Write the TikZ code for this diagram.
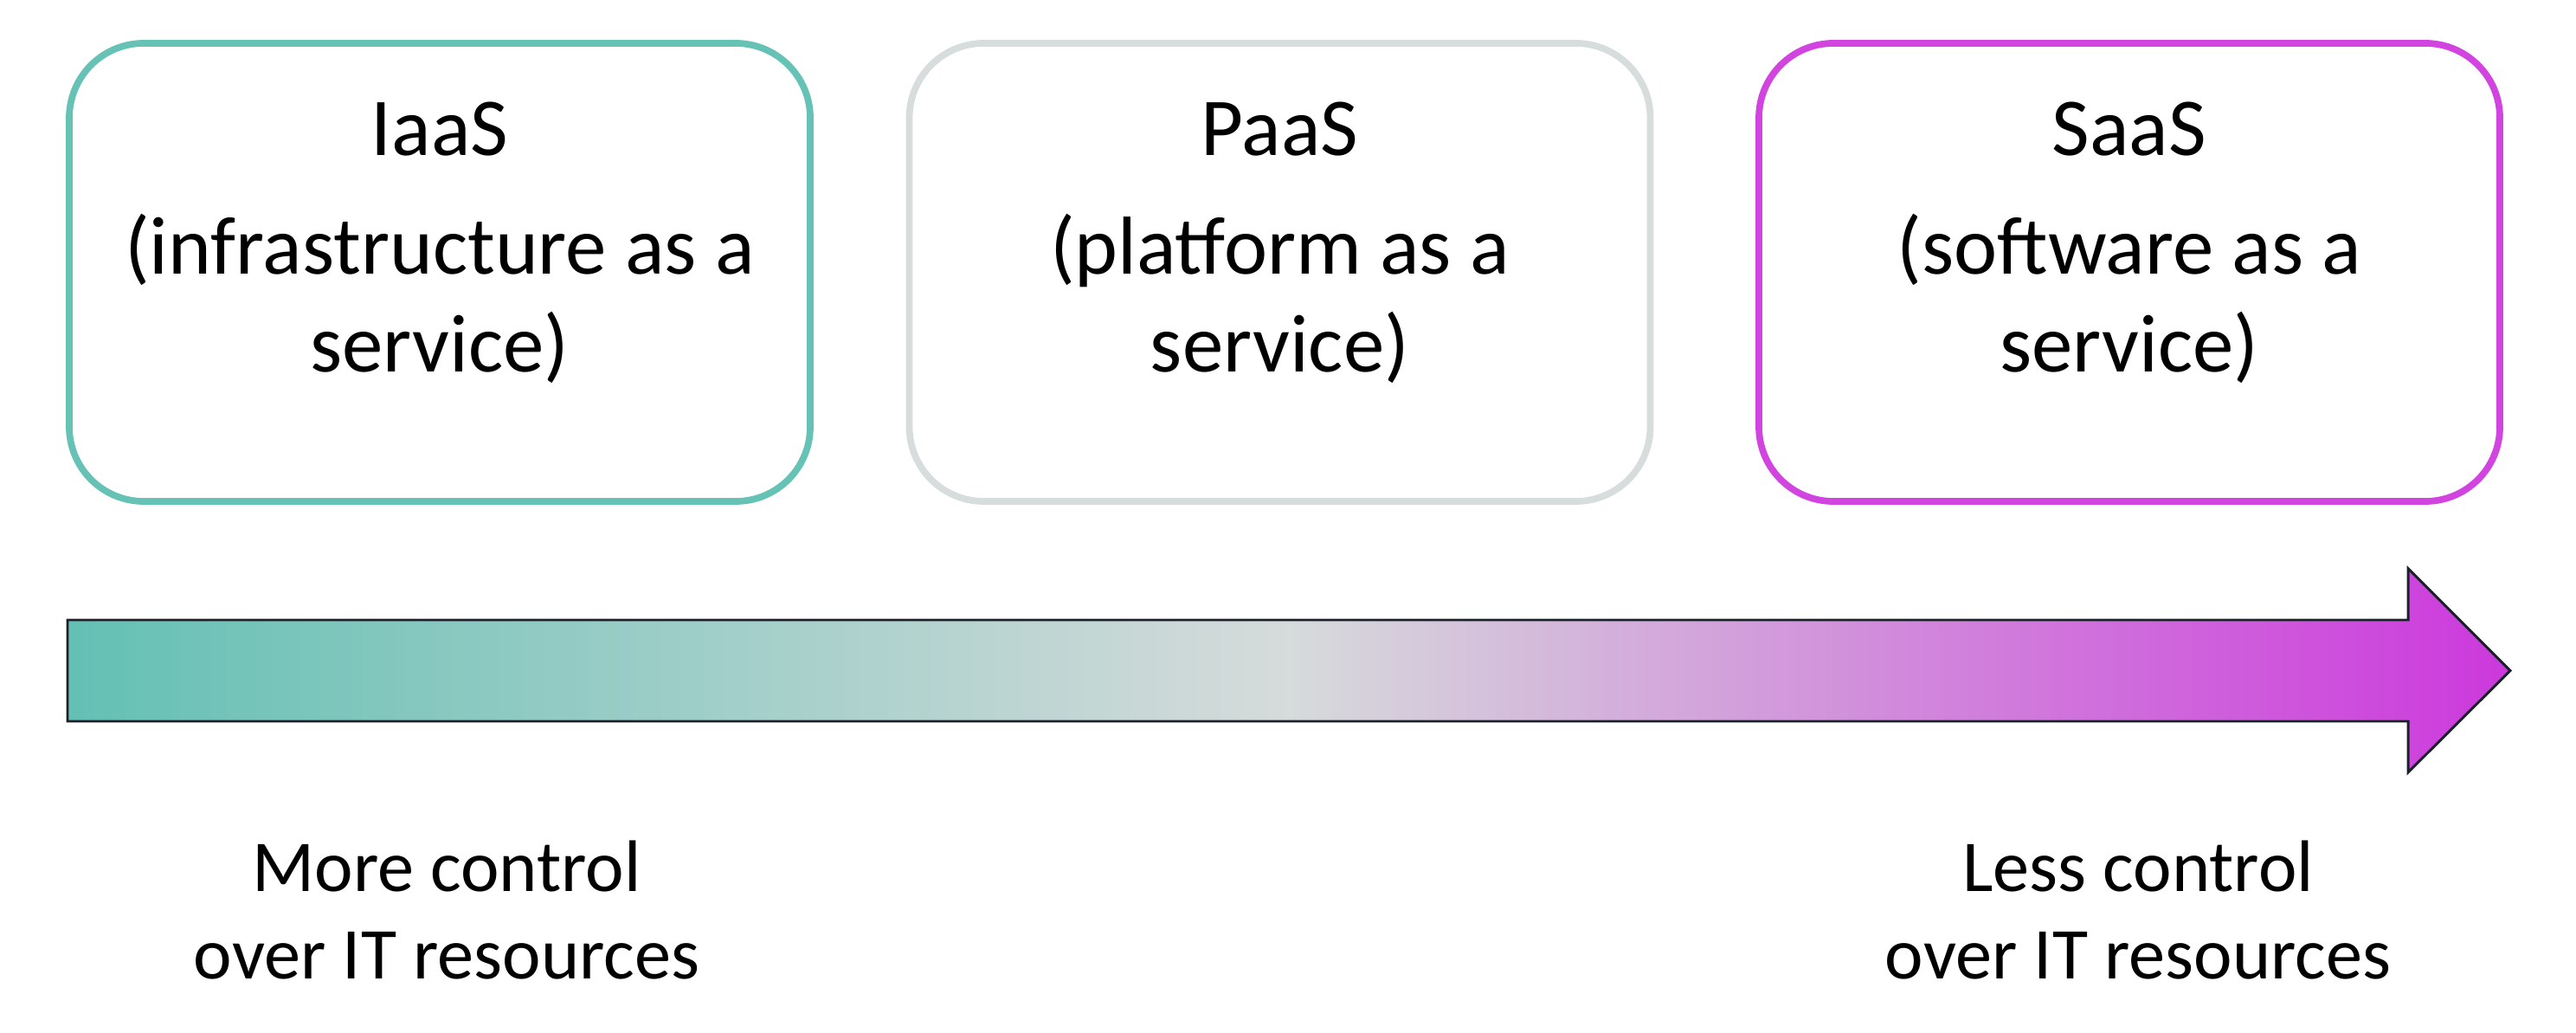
\documentclass[tikz,border=0pt]{standalone}
\usepackage{fontspec}
\setmainfont{Carlito}
\usepackage{tikz}
\usetikzlibrary{calc}
\definecolor{iaas}{HTML}{66C2B5}
\definecolor{paas}{HTML}{D7DCDC}
\definecolor{saas}{HTML}{D144E0}
\definecolor{iaasfill}{HTML}{64C0B4}
\definecolor{paasfill}{HTML}{D6DBDB}
\definecolor{saasfill}{HTML}{CC38DC}
\definecolor{arrowedge}{HTML}{1B212B}
\pgfdeclarehorizontalshading{controlshade}{100bp}{color(0bp)=(iaasfill); color(25bp)=(iaasfill);
  color(50bp)=(paasfill); color(75bp)=(saasfill); color(100bp)=(saasfill)}
\tikzstyle{svcbox}=[draw, rounded corners=0.86cm, line width=2.2pt, inner sep=0, outer sep=0,
                    minimum width=8.56cm, minimum height=5.29cm]
\tikzstyle{svclabel}=[anchor=base, inner sep=0, font=\fontsize{27}{32}\selectfont]
\tikzstyle{ctrllabel}=[anchor=base, inner sep=0, font=\fontsize{24}{29}\selectfont]

\begin{document}
\begin{tikzpicture}
  \useasboundingbox (0,0) rectangle (29.76,11.92);
  % the three service models
  \foreach \key/\cx/\abbr/\kind in {iaas/5.08/IaaS/infrastructure, paas/14.785/PaaS/platform, saas/24.60/SaaS/software}{
    \node[svcbox, draw=\key] (\key-box) at (\cx,8.775) {};
    \node[svclabel] (\key-title) at ($(\key-box.north)+(0,-1.30)$) {\abbr};
    \node[svclabel] (\key-kind) at ($(\key-box.north)+(0,-2.67)$) {(\kind\ as a};
    \node[svclabel] (\key-end) at ($(\key-box.north)+(0,-3.80)$) {service)};
  }
  % shaded arrow
  \shadedraw[shading=controlshade, draw=arrowedge, line width=0.85pt]
    (0.78,4.76) coordinate (tail) -- (27.82,4.76) -- (27.82,5.355) -- (29.00,4.175) coordinate (tip)
    -- (27.82,3.00) -- (27.82,3.59) -- (0.78,3.59) -- cycle;
  \node[ctrllabel] (more-ctrl) at (5.16,1.63) {More control};
  \node[ctrllabel] (more-res) at (5.16,0.61) {over IT resources};
  \node[ctrllabel] (less-ctrl) at (24.70,1.63) {Less control};
  \node[ctrllabel] (less-res) at (24.70,0.61) {over IT resources};
\end{tikzpicture}
\end{document}
